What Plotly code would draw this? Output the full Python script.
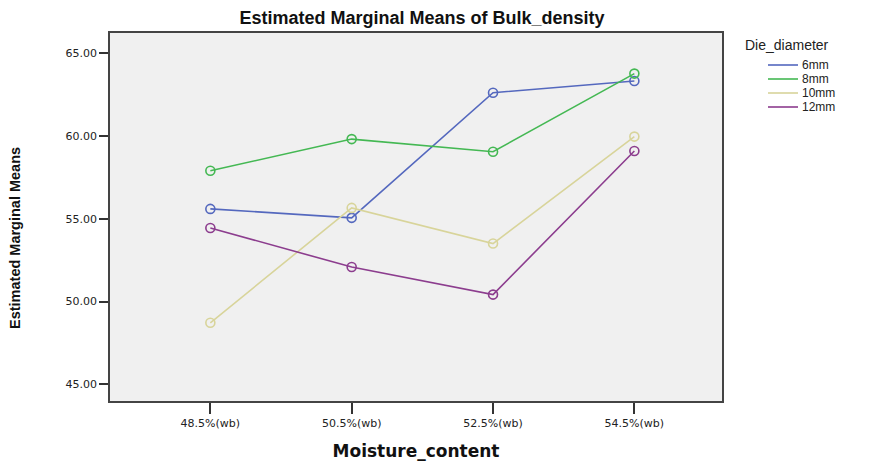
import plotly.graph_objects as go

categories = ["48.5%(wb)", "50.5%(wb)", "52.5%(wb)", "54.5%(wb)"]
series_names = ["6mm", "8mm", "10mm", "12mm"]
vals_6mm = [55.59, 55.05, 62.60, 63.30]
vals_8mm = [57.89, 59.80, 59.04, 63.75]
vals_10mm = [48.72, 55.65, 53.50, 59.95]
vals_12mm = [54.44, 52.08, 50.42, 59.08]
colors = ["#5468BE", "#44B853", "#D8D49A", "#8C3D8E"]

series = [vals_6mm, vals_8mm, vals_10mm, vals_12mm]
y_ticks = [45, 50, 55, 60, 65]
y_tick_text = ["45.00", "50.00", "55.00", "60.00", "65.00"]

OFF = 8  # page body margin
W, H = 870 - OFF, 461 - OFF
L, T = 110 - OFF, 33 - OFF
R, B = W - (722 - OFF), H - (401 - OFF)
pw, ph = W - L - R, H - T - B

fig = go.Figure()
for name, vals, c in zip(series_names, series, colors):
    fig.add_trace(go.Scatter(
        x=list(range(len(categories))), y=vals, mode="lines+markers", name=name,
        line=dict(color=c, width=1.6),
        marker=dict(symbol="circle-open", size=9, color=c, line=dict(width=1.6)),
        showlegend=False,
    ))

# helpers: screen px -> paper coords
def px_x(px):
    return (px - OFF - L) / pw

def px_y(py):
    return 1 - (py - OFF - T) / ph

annotations = [
    dict(text="Die_diameter", xref="paper", yref="paper", x=px_x(743), y=px_y(45),
         xanchor="left", yanchor="middle", showarrow=False,
         font=dict(family="Liberation Sans, Arial", size=14, color="#222")),
    dict(text="<b>Estimated Marginal Means</b>", xref="paper", yref="paper",
         x=px_x(15), y=px_y(238), xanchor="center", yanchor="middle", textangle=-90,
         showarrow=False,
         font=dict(family="Liberation Sans Narrow, Liberation Sans, Arial", size=14.5, color="#111")),
]
shapes = []
for i, (name, c) in enumerate(zip(series_names, colors)):
    yy = 65 + 14 * i
    shapes.append(dict(type="line", xref="paper", yref="paper",
                       x0=px_x(768), x1=px_x(798), y0=px_y(yy), y1=px_y(yy),
                       line=dict(color=c, width=1.6)))
    annotations.append(dict(text=name, xref="paper", yref="paper", x=px_x(800), y=px_y(yy),
                            xanchor="left", yanchor="middle", showarrow=False,
                            font=dict(family="Liberation Sans, Arial", size=12, color="#222")))

fig.update_layout(
    width=W, height=H,
    margin=dict(l=L, r=R, t=T, b=B),
    paper_bgcolor="white", plot_bgcolor="#F0F0F0",
    font=dict(family="DejaVu Sans, Arial", size=11, color="#222"),
    title=dict(text="<b>Estimated Marginal Means of Bulk_density</b>",
               font=dict(family="Liberation Sans, Arial", size=18, color="#111"),
               x=(422 - OFF) / W, xanchor="center", y=1 - (18 - OFF) / H, yanchor="middle"),
    showlegend=False,
    annotations=annotations,
    shapes=shapes,
    xaxis=dict(
        tickmode="array", tickvals=list(range(len(categories))), ticktext=categories,
        range=[-0.71, 3.62], showgrid=False, zeroline=False, automargin=False,
        ticks="outside", ticklen=11, tickcolor="#333", tickwidth=1.5,
        showline=True, linecolor="#444", linewidth=1.5, mirror=True,
        tickfont=dict(family="DejaVu Sans, Arial", size=11, color="#222"),
        title=dict(text="<b>Moisture_content</b>",
                   font=dict(family="DejaVu Sans, Arial", size=17, color="#111"),
                   standoff=16),
    ),
    yaxis=dict(
        tickmode="array", tickvals=y_ticks, ticktext=y_tick_text,
        range=[44.0, 66.2], showgrid=False, zeroline=False, automargin=False,
        ticks="outside", ticklen=9, tickcolor="#333", tickwidth=1.5,
        showline=True, linecolor="#444", linewidth=1.5, mirror=True,
        tickfont=dict(family="DejaVu Sans, Arial", size=11, color="#222"),
    ),
)

fig.write_html("out.html")
